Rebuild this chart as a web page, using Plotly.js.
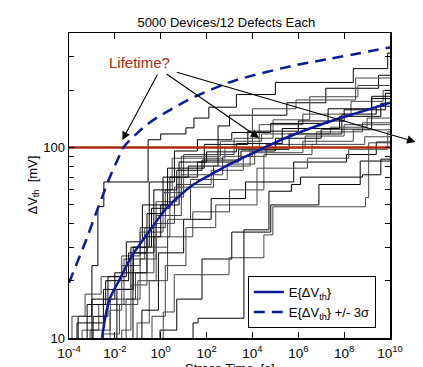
<!DOCTYPE html>
<html>
<head>
<meta charset="utf-8">
<script src="https://cdn.plot.ly/plotly-3.0.1.min.js"></script>
<style>html,body{margin:0;padding:0;background:#fff;}#chart{width:423px;height:367px;}</style>
</head>
<body>
<div id="chart"></div>
<script>
// ---- data (time given as log10 exponent of seconds, values in mV) ----
const chartTitle = '5000 Devices/12 Defects Each';
const xTitle = 'Stress Time  [s]';
const yTitle = 'ΔV<sub>th</sub>  [mV]';
const xTickExp = [-4, -2, 0, 2, 4, 6, 8, 10];
const xTickLabels = ['10<sup>-4</sup>','10<sup>-2</sup>','10<sup>0</sup>','10<sup>2</sup>','10<sup>4</sup>','10<sup>6</sup>','10<sup>8</sup>','10<sup>10</sup>'];
const yTickVals = [10, 100];
const yTickLabels = ['10', '100'];
const yMinorTickVals = [20,30,40,50,60,70,80,90,200,300,400];
const threshold = [100];

const meanExp = [-2.56,-2.24,-1.8,-1.28,-0.8,-0.41,0.24,0.85,1.41,2.2,2.98,3.6,4.59,5.5,6.5,7.67,8.8,10];
const meanMV  = [10,15.8,20.2,26.7,32.4,37.6,47.9,56.2,63.8,72.4,81.5,88.5,101,113,126,141,155,172];

const upperExp = [-4,-3.5,-3.24,-2.9,-2.59,-2.24,-1.85,-1.63,-1.0,-0.46,0.3,1.41,2.72,3.28,5.63,7.2,10];
const upperMV  = [19.5,27.5,33,42.7,53.7,69,88,100,120,136,155,183,214,226,267,290,336];

// step times (log10 s) and levels (mV) after each emission step, per device
const devStepExp = [
  [-3.6,-3.0,-2.74,-2.48,-0.55,0.0,1.1,1.45,2.1,3.3,5.0,8.4,9.9],
  [-3.87,-3.3,-2.6,-1.7,-0.9,-0.2,0.7,2.2,3.6,4.6,6.8,8.8],
  [-3.65,-3.0,-2.0,-1.2,-0.4,0.4,1.6,3.4,5.6,7.9,9.4],
  [-3.43,-2.7,-1.6,-0.7,0.2,0.5,2.8,4.3,6.2,8.3,9.7],
  [-3.21,-2.4,-1.4,-0.6,0.1,1.2,2.5,3.0,5.5,7.2,9.5],
  [-3.08,-2.2,-1.1,-0.3,0.4,1.0,3.2,4.9,6.5,8.6],
  [-2.95,-2.3,-1.5,-0.8,0.3,1.9,3.8,6.0,8.0,9.8],
  [-2.21,-1.7,-0.9,0.1,0.9,2.6,4.4,7.4,9.0],
  [-1.91,-1.2,-0.3,0.7,1.8,3.5,5.0,7.0,9.2],
  [-1.51,-0.9,-0.2,0.6,2.3,3.9,6.3,8.0],
  [-1.21,-0.6,0.0,0.8,2.0,3.3,5.3,7.8,9.6],
  [-1.03,-0.5,0.3,1.4,3.0,4.5,6.6,8.9],
  [-0.82,-0.1,1.0,2.2,3.7,5.8,8.1,9.4],
  [-0.38,0.2,1.1,2.4,4.2,6.4,8.2,9.9],
  [-0.03,0.7,1.8,3.1,4.8,6.9,8.7],
  [0.11,0.59,2.98,4.5,4.89,8.93,9.07],
  [1.41,1.63,3.63,4.72,5.7,6.1,8.8,9.6],
  [-2.5,-1.8,-1.0,-0.2,0.9,2.7,4.0,5.9,8.5],
  [-3.0,-2.5,-1.3,-0.5,0.6,1.6,3.1,4.8,7.3,9.2],
  [-1.7,-1.3,-0.6,0.3,1.3,2.9,4.1,6.2,8.4]
];
const devStepMV = [
  [13,24,49,66,110,118,127,143,163,190,220,260,314],
  [13,17,21,27,38,52,64,76,90,104,121,135],
  [12,16,22,30,48,70,84,98,118,150,165],
  [11,15,26,38,60,88,100,132,150,175,200],
  [15,20,28,45,70,80,130,148,172,205,240],
  [11,16,22,34,55,92,112,140,185,212],
  [13,21,32,50,78,104,122,138,158,193],
  [14,24,36,58,90,108,118,128,143],
  [18,28,60,76,86,96,112,125,181],
  [16,26,40,62,80,100,115,132],
  [22,34,50,84,95,105,126,146,171],
  [12,20,34,46,60,92,104,114],
  [14,28,42,54,66,84,92,107],
  [13,24,38,50,78,88,98,121],
  [11,16,26,36,50,64,85],
  [13.7,21.5,26.4,34.8,48.9,54.6,106],
  [12,12.7,37,59,64,70,72,87],
  [10.5,15,20,44,72,90,160,178,232],
  [12,18,30,66,96,110,120,134,160,186],
  [11,19,30,42,68,82,94,108,124]
];
const devColors = ['#000000','#444444'];

// ---- build traces ----
const X_MIN = -4, X_MAX = 10;
const toSec = e => Math.pow(10, e);
const traces = [];
devStepExp.forEach((ks, i) => {
  const vs = devStepMV[i];
  const x = [toSec(X_MIN - 0.5)], y = [5];
  ks.forEach((k, j) => { x.push(toSec(k)); y.push(vs[j]); });
  x.push(toSec(X_MAX + 0.5)); y.push(vs[vs.length - 1]);
  traces.push({x, y, type:'scatter', mode:'lines', line:{shape:'hv', color: devColors[i % 2], width:1}, showlegend:false, hoverinfo:'skip'});
});
traces.push({x:[toSec(X_MIN), toSec(X_MAX)], y:[threshold[0], threshold[0]], type:'scatter', mode:'lines',
  line:{color:'#b02a0c', width:2.5}, showlegend:false});
traces.push({x: meanExp.map(toSec), y: meanMV, type:'scatter', mode:'lines', name:'E{ΔV<sub>th</sub>}',
  line:{color:'#0c1a9e', width:2.5, shape:'spline', smoothing:1}});
traces.push({x: upperExp.map(toSec), y: upperMV, type:'scatter', mode:'lines', name:'E{ΔV<sub>th</sub>} +/- 3σ',
  line:{color:'#0c1a9e', width:2.5, dash:'11px,7px', shape:'spline', smoothing:1}});

const FONT = 'Liberation Sans, Arial, Helvetica, sans-serif';
const arrowBase = {text:'', showarrow:true, arrowhead:2, arrowsize:1.5, arrowwidth:1.1, arrowcolor:'#000',
  xref:'paper', yref:'paper', axref:'pixel', ayref:'pixel', standoff:0, startstandoff:0};

const layout = {
  width:423, height:367,
  margin:{l:69, r:33, t:33, b:29},
  paper_bgcolor:'#fff', plot_bgcolor:'#fff',
  font:{family:FONT, size:13, color:'#000'},
  title:{text: chartTitle, font:{family:FONT, size:13, color:'#000'}, x:0.535, xanchor:'center', y:0.94, yanchor:'middle'},
  showlegend:true,
  legend:{x:0.557, y:0.203, xanchor:'left', yanchor:'top', bgcolor:'#fff', bordercolor:'#000', borderwidth:1,
    font:{family:FONT, size:13, color:'#000'}, tracegroupgap:0},
  xaxis:{type:'log', range:[X_MIN, X_MAX], tickvals: xTickExp.map(toSec), ticktext: xTickLabels,
    ticks:'inside', ticklen:6, tickwidth:1, tickcolor:'#000', showline:true, linecolor:'#000', linewidth:1.5,
    mirror:'ticks', showgrid:false, zeroline:false, tickfont:{family:FONT, size:13.5, color:'#000'},
    ticklabelstandoff:2},
  yaxis:{type:'log', range:[1, Math.log10(400)], tickvals: yTickVals, ticktext: yTickLabels,
    ticks:'inside', ticklen:5, tickwidth:1, tickcolor:'#000', showline:true, linecolor:'#000', linewidth:1.5,
    minor:{tickvals: yMinorTickVals, ticks:'inside', ticklen:5, tickwidth:1, tickcolor:'#000', showgrid:false},
    mirror:'ticks', showgrid:false, zeroline:false, tickfont:{family:FONT, size:13, color:'#000'}},
  annotations:[
    {text: xTitle, showarrow:false, xref:'paper', yref:'paper', x:0.5, y:-0.07, xanchor:'center', yanchor:'top',
      font:{family:FONT, size:13, color:'#000'}},
    {text: yTitle, showarrow:false, xref:'paper', yref:'paper', x:-0.112, y:0.5, xanchor:'center', yanchor:'middle',
      textangle:-90, font:{family:FONT, size:13, color:'#000'}},
    {text:'Lifetime?', showarrow:false, xref:'paper', yref:'paper', x:0.219, y:0.902, xanchor:'center', yanchor:'middle',
      font:{family:FONT, size:15, color:'#b02a0c'}},
    Object.assign({}, arrowBase, {x:0.166, y:0.649, ax:36, ay:-67}),
    Object.assign({}, arrowBase, {x:0.592, y:0.656, ax:-94, ay:-65}),
    Object.assign({}, arrowBase, {x:1.079, y:0.643, ax:-240, ay:-70})
  ]
};

Plotly.newPlot('chart', traces, layout, {staticPlot:true, displayModeBar:false});
</script>
</body>
</html>
